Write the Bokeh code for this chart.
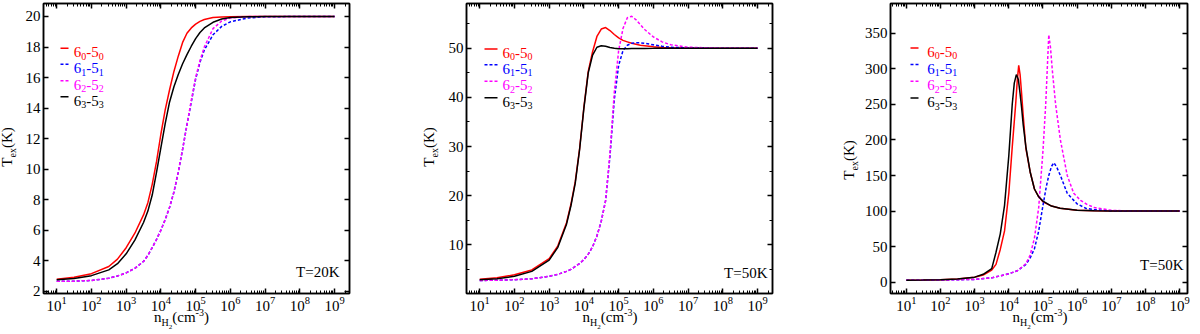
import math
from bokeh.plotting import figure
from bokeh.models import (Range1d, FixedTicker, LogAxis, LinearAxis, Label, Arrow,
                          CustomJSTickFormatter, Div)
from bokeh.layouts import row, column
from bokeh.embed import file_html
from bokeh.resources import INLINE

FONT = "Liberation Serif"
RED, BLUE, MAG, BLK = "#ff0000", "#0000ff", "#ff00ff", "#000000"

# ---------------- data (x given as log10 of n_H2 in cm^-3) ----------------
x_decades = [1, 2, 3, 4, 5, 6, 7, 8, 9]

# Panel 1, T = 20 K
lg_p1 = [1.0, 1.5, 2.0, 2.5, 2.75, 3.0, 3.25, 3.5, 3.625, 3.75, 3.875, 4.0, 4.125, 4.25,
         4.375, 4.5, 4.625, 4.75, 4.875, 5.0, 5.125, 5.25, 5.5, 5.75, 6.0, 6.5, 7.0, 8.0, 9.0]
tex_p1_60 = [2.78, 2.92, 3.15, 3.62, 4.1, 4.85, 5.8, 7.0, 7.8, 9.0, 10.5, 12.3, 13.9, 15.2,
             16.4, 17.4, 18.3, 18.9, 19.25, 19.5, 19.68, 19.8, 19.93, 19.97, 19.99, 20.0, 20.0, 20.0, 20.0]
tex_p1_61 = [2.65, 2.66, 2.7, 2.85, 3.0, 3.2, 3.5, 3.95, 4.35, 4.85, 5.4, 6.0, 6.7, 7.5,
             8.5, 9.8, 11.3, 12.9, 14.4, 15.9, 17.0, 17.8, 18.8, 19.35, 19.65, 19.9, 19.98, 20.0, 20.0]
tex_p1_62 = [2.65, 2.66, 2.7, 2.85, 3.0, 3.2, 3.5, 3.95, 4.35, 4.85, 5.4, 6.0, 6.7, 7.5,
             8.5, 9.8, 11.3, 12.9, 14.5, 16.0, 17.1, 18.0, 19.2, 19.7, 19.9, 19.99, 20.0, 20.0, 20.0]
tex_p1_63 = [2.75, 2.84, 3.02, 3.4, 3.8, 4.45, 5.35, 6.5, 7.25, 8.3, 9.8, 11.4, 13.0, 14.4,
             15.4, 16.2, 16.9, 17.5, 18.05, 18.55, 18.95, 19.25, 19.62, 19.83, 19.93, 19.98, 20.0, 20.0, 20.0]

# Panel 2, T = 50 K
lg_p2 = [1.0, 1.5, 2.0, 2.5, 3.0, 3.25, 3.5, 3.625, 3.75, 3.875, 4.0, 4.125, 4.25, 4.375,
         4.5, 4.625, 4.75, 4.875, 5.0, 5.125, 5.25, 5.375, 5.5, 5.625, 5.75, 6.0, 6.25, 6.5,
         7.0, 8.0, 9.0]
tex_p2_60 = [3.0, 3.3, 3.9, 4.9, 7.2, 9.8, 14.5, 18.2, 22.8, 29.5, 38.0, 45.3, 49.3, 52.4,
             53.9, 54.2, 53.6, 52.8, 52.1, 51.6, 51.3, 51.0, 50.8, 50.6, 50.5, 50.3, 50.15, 50.08,
             50.02, 50.0, 50.0]
tex_p2_61 = [2.75, 2.8, 2.9, 3.1, 3.6, 4.0, 4.6, 5.0, 5.6, 6.2, 7.0, 8.1, 9.6, 11.8,
             14.8, 19.0, 28.0, 39.5, 46.5, 49.5, 50.6, 51.0, 51.1, 51.1, 51.0, 50.7, 50.4, 50.2,
             50.05, 50.0, 50.0]
tex_p2_62 = [2.75, 2.8, 2.9, 3.1, 3.6, 4.0, 4.6, 5.0, 5.6, 6.2, 7.0, 8.1, 9.6, 11.8,
             14.8, 19.0, 28.5, 41.0, 49.5, 54.0, 56.2, 56.5, 55.8, 54.8, 53.8, 52.3, 51.3, 50.7,
             50.2, 50.0, 50.0]
tex_p2_63 = [2.9, 3.1, 3.6, 4.6, 6.9, 9.5, 14.2, 17.9, 22.5, 29.3, 37.8, 45.0, 48.6, 50.2,
             50.5, 50.4, 50.15, 50.0, 49.9, 49.88, 49.9, 49.92, 49.93, 49.95, 49.97, 49.98, 50.0, 50.0,
             50.0, 50.0, 50.0]

# Panel 3, T = 50 K
lg_p3_60 = [1.0, 1.5, 2.0, 2.5, 3.0, 3.25, 3.5, 3.625, 3.75, 3.875, 4.0, 4.1, 4.2, 4.25, 4.29,
            4.33, 4.375, 4.42, 4.5, 4.625, 4.75, 4.875, 5.0, 5.25, 5.5, 6.0, 6.5, 7.0, 8.0, 9.0]
tex_p3_60 = [2.8, 3.0, 3.4, 4.3, 6.8, 10.0, 17.0, 25.0, 46.0, 72.0, 125.0, 190.0, 250.0, 285.0, 305.0,
             292.0, 265.0, 235.0, 188.0, 155.0, 131.0, 120.0, 113.0, 107.0, 104.0, 101.0, 100.3, 100.0, 100.0, 100.0]
lg_p3_63 = [1.0, 1.5, 2.0, 2.5, 3.0, 3.25, 3.5, 3.625, 3.75, 3.875, 4.0, 4.1, 4.16, 4.22, 4.28,
            4.33, 4.375, 4.42, 4.5, 4.625, 4.75, 4.875, 5.0, 5.25, 5.5, 6.0, 6.5, 7.0, 8.0, 9.0]
tex_p3_63 = [2.8, 3.0, 3.4, 4.3, 7.0, 11.0, 19.0, 42.0, 68.0, 108.0, 178.0, 250.0, 280.0, 292.0, 285.0,
             265.0, 245.0, 222.0, 190.0, 155.0, 131.0, 120.0, 114.0, 107.0, 104.0, 101.0, 100.3, 100.0, 100.0, 100.0]
lg_p3_62 = [1.0, 2.0, 3.0, 3.5, 4.0, 4.25, 4.5, 4.625, 4.75, 4.875, 5.0, 5.08, 5.13, 5.17, 5.22,
            5.27, 5.37, 5.51, 5.71, 5.9, 6.1, 6.3, 6.5, 7.0, 7.5, 8.0, 9.0]
tex_p3_62 = [2.7, 2.9, 3.8, 6.0, 11.7, 16.0, 26.0, 38.0, 62.0, 105.0, 185.0, 250.0, 305.0, 348.0, 330.0,
             300.0, 250.0, 200.0, 150.0, 125.0, 115.0, 109.0, 105.0, 101.0, 100.2, 100.0, 100.0]
lg_p3_61 = [1.0, 2.0, 3.0, 3.5, 4.0, 4.25, 4.5, 4.625, 4.75, 4.875, 5.0, 5.1, 5.17, 5.25, 5.32,
            5.4, 5.51, 5.71, 6.0, 6.25, 6.5, 7.0, 8.0, 9.0]
tex_p3_61 = [2.7, 2.9, 3.8, 6.0, 11.7, 16.0, 25.0, 34.0, 47.0, 72.0, 108.0, 135.0, 150.0, 163.0, 168.0,
             162.0, 150.0, 125.0, 110.0, 104.0, 102.0, 100.3, 100.0, 100.0]

yticks_p1 = [2, 4, 6, 8, 10, 12, 14, 16, 18, 20]
yticks_p2 = [10, 20, 30, 40, 50]
yminor_p2 = [5, 15, 25, 35, 45, 55]
yticks_p3 = [0, 50, 100, 150, 200, 250, 300, 350]

temp_labels = ["T=20K", "T=50K", "T=50K"]

# ---------------- layout constants ----------------
FH = 290          # frame height
BT = 3            # top border
BB = 21           # bottom border (tick labels)
XH = 19           # height of the x-label strip
FIG_H = BT + FH + BB
REF_FH = 289.7    # reference frame height
REF_BOTTOM = 293.0

W = {'T': 0.611, 'e': 0.444, 'x': 0.5, '(': 0.333, ')': 0.333, 'K': 0.722, 'n': 0.5,
     'H': 0.722, 'c': 0.444, 'm': 0.778, '-': 0.333, '=': 0.564}
CSS_FONT = "font-family:'Liberation Serif',serif;color:#000;"


def tw(s, size):
    return sum(W.get(ch, 0.5) for ch in s) * size


def fy(ref_y):
    return (REF_BOTTOM - ref_y) * FH / REF_FH


def rich(p, parts, x, y, color="black"):
    cur = 0.0
    for text, size, dy in parts:
        p.add_layout(Label(x=x + cur, y=y - dy, x_units="screen", y_units="screen",
                           text=text, text_font=FONT, text_font_size=f"{size}px",
                           text_color=color, text_align="left", text_baseline="alphabetic"))
        cur += tw(text, size)
    return cur


def style_axis(ax, show):
    ax.axis_line_color = "black"
    ax.axis_line_width = 1.5
    ax.major_tick_line_color = "black"
    ax.minor_tick_line_color = "black"
    ax.major_tick_in = 5
    ax.major_tick_out = 0
    ax.minor_tick_in = 3
    ax.minor_tick_out = 0
    ax.major_tick_line_width = 1.5
    ax.minor_tick_line_width = 1
    ax.major_label_text_font = FONT
    ax.major_label_text_color = "black"
    if show:
        ax.major_label_text_font_size = "15px"
        ax.major_label_standoff = 3
    else:
        ax.formatter = CustomJSTickFormatter(code="return ''")
        ax.major_label_text_font_size = "0px"
        ax.major_label_standoff = 0


def ylabel_div(width, height, baseline_x, center_y):
    left = baseline_x - 12.6
    html = (f'<div style="position:relative;width:{width}px;height:{height}px;">'
            f'<span style="position:absolute;left:{left:.1f}px;top:{center_y:.1f}px;'
            f'transform:rotate(-90deg) translateX(-50%);transform-origin:0 0;'
            f'white-space:nowrap;line-height:15px;font-size:15px;{CSS_FONT}">'
            f'T<span style="font-size:10px;position:relative;top:4px;">ex</span>(K)</span></div>')
    return Div(text=html, width=width, height=height, margin=0)


def xlabel_div(width, height, center_x, baseline_y):
    top = baseline_y - 12.6
    html = (f'<div style="position:relative;width:{width}px;height:{height}px;">'
            f'<span style="position:absolute;left:{center_x:.1f}px;top:{top:.1f}px;'
            f'transform:translateX(-50%);white-space:nowrap;line-height:15px;font-size:15px;{CSS_FONT}">'
            f'n<span style="font-size:10px;position:relative;top:4px;">H'
            f'<span style="font-size:7px;position:relative;top:3px;">2</span></span>'
            f'(cm<span style="font-size:10px;position:relative;top:-6px;">-3</span>)</span></div>')
    return Div(text=html, width=width, height=height, margin=0)


XMAJOR = [10.0 ** k for k in x_decades]
XMINOR = [m * 10.0 ** k for k in range(0, 10) for m in range(2, 10)]

LEG_PARTS = [
    [("6", 15, 0), ("0", 10, 4), ("-", 15, 0), ("5", 15, 0), ("0", 10, 4)],
    [("6", 15, 0), ("1", 10, 4), ("-", 15, 0), ("5", 15, 0), ("1", 10, 4)],
    [("6", 15, 0), ("2", 10, 4), ("-", 15, 0), ("5", 15, 0), ("2", 10, 4)],
    [("6", 15, 0), ("3", 10, 4), ("-", 15, 0), ("5", 15, 0), ("3", 10, 4)],
]
COLORS = [RED, BLUE, MAG, BLK]
DASHES = ["solid", "3 2", "3 2", "solid"]


def make_panel(xr, yr, yt, ym, fw, ydw, bl, br, series, leg, temp, ylab, xlab):
    p = figure(x_axis_type="log", x_range=Range1d(10 ** xr[0], 10 ** xr[1]),
               y_range=Range1d(yr[0], yr[1]), frame_width=fw, frame_height=FH,
               min_border_left=bl, min_border_right=br, min_border_top=BT,
               min_border_bottom=BB, output_backend="svg", toolbar_location=None,
               background_fill_color="white", border_fill_color="white")
    p.outline_line_color = "black"
    p.outline_line_width = 1.5
    p.grid.visible = False
    xtick = FixedTicker(ticks=XMAJOR, minor_ticks=XMINOR)
    ytick = FixedTicker(ticks=yt, minor_ticks=ym)
    p.xaxis.ticker = xtick
    p.yaxis.ticker = ytick
    for ax in p.xaxis + p.yaxis:
        style_axis(ax, True)
    top = LogAxis(ticker=xtick)
    style_axis(top, False)
    p.add_layout(top, "above")
    right = LinearAxis(ticker=ytick)
    style_axis(right, False)
    p.add_layout(right, "right")

    for (lg, vals), col, dash in zip(series, COLORS, DASHES):
        p.line(x=[10 ** v for v in lg], y=vals, line_color=col, line_width=1.5,
               line_dash=dash)

    # legend
    sx0, sx1, tx, rows = leg
    for parts, col, dash, ry in zip(LEG_PARTS, COLORS, DASHES, rows):
        yb = fy(ry + 5)
        ys = fy(ry + 1)
        p.add_layout(Arrow(x_start=sx0, y_start=ys, x_end=sx1, y_end=ys,
                           start_units="screen", end_units="screen", start=None, end=None,
                           line_color=col, line_width=1.5, line_dash=dash))
        rich(p, parts, tx, yb, color=col)

    # temperature annotation
    txt, rx, ry = temp
    p.add_layout(Label(x=rx, y=fy(ry), x_units="screen", y_units="screen", text=txt,
                       text_font=FONT, text_font_size="15px", text_align="right",
                       text_baseline="alphabetic", text_color="black"))

    panel_w = ydw + bl + fw + br
    yb_x, yc = ylab
    ydiv = ylabel_div(ydw, FIG_H, yb_x, BT + (yc - 3.3) * FH / REF_FH)
    xdiv = xlabel_div(panel_w, XH, xlab, 9)
    return column(row(ydiv, p, spacing=0), xdiv, spacing=0)


# panel starts on page: 0, 400, 824 (page has no margin)
c1 = make_panel((0.62, 9.43), (1.85, 20.85), yticks_p1, [], 306, 20, 23, 51,
                [(lg_p1, tex_p1_60), (lg_p1, tex_p1_61), (lg_p1, tex_p1_62), (lg_p1, tex_p1_63)],
                (17, 25, 30.3, [47, 63, 79.5, 95.5]),
                (temp_labels[0], 296, 272), (13, 147), 181.5)
c2 = make_panel((0.62, 9.43), (0.1, 59.1), yticks_p2, yminor_p2, 306, 40, 26, 52,
                [(lg_p2, tex_p2_60), (lg_p2, tex_p2_61), (lg_p2, tex_p2_62), (lg_p2, tex_p2_63)],
                (18, 31, 36, [47.7, 63.5, 80, 96.5]),
                (temp_labels[1], 301, 273), (35, 147), 210)
c3 = make_panel((0.537, 9.23), (-16, 392), yticks_p3, [], 297, 36, 30, 12,
                [(lg_p3_60, tex_p3_60), (lg_p3_61, tex_p3_61), (lg_p3_62, tex_p3_62), (lg_p3_63, tex_p3_63)],
                (20, 28, 36.7, [46.7, 63.3, 80, 96.7]),
                (temp_labels[2], 293, 265), (31, 160), 216)

layout = row(c1, c2, c3, spacing=0)
open("out.html", "w").write(file_html(layout, INLINE))
